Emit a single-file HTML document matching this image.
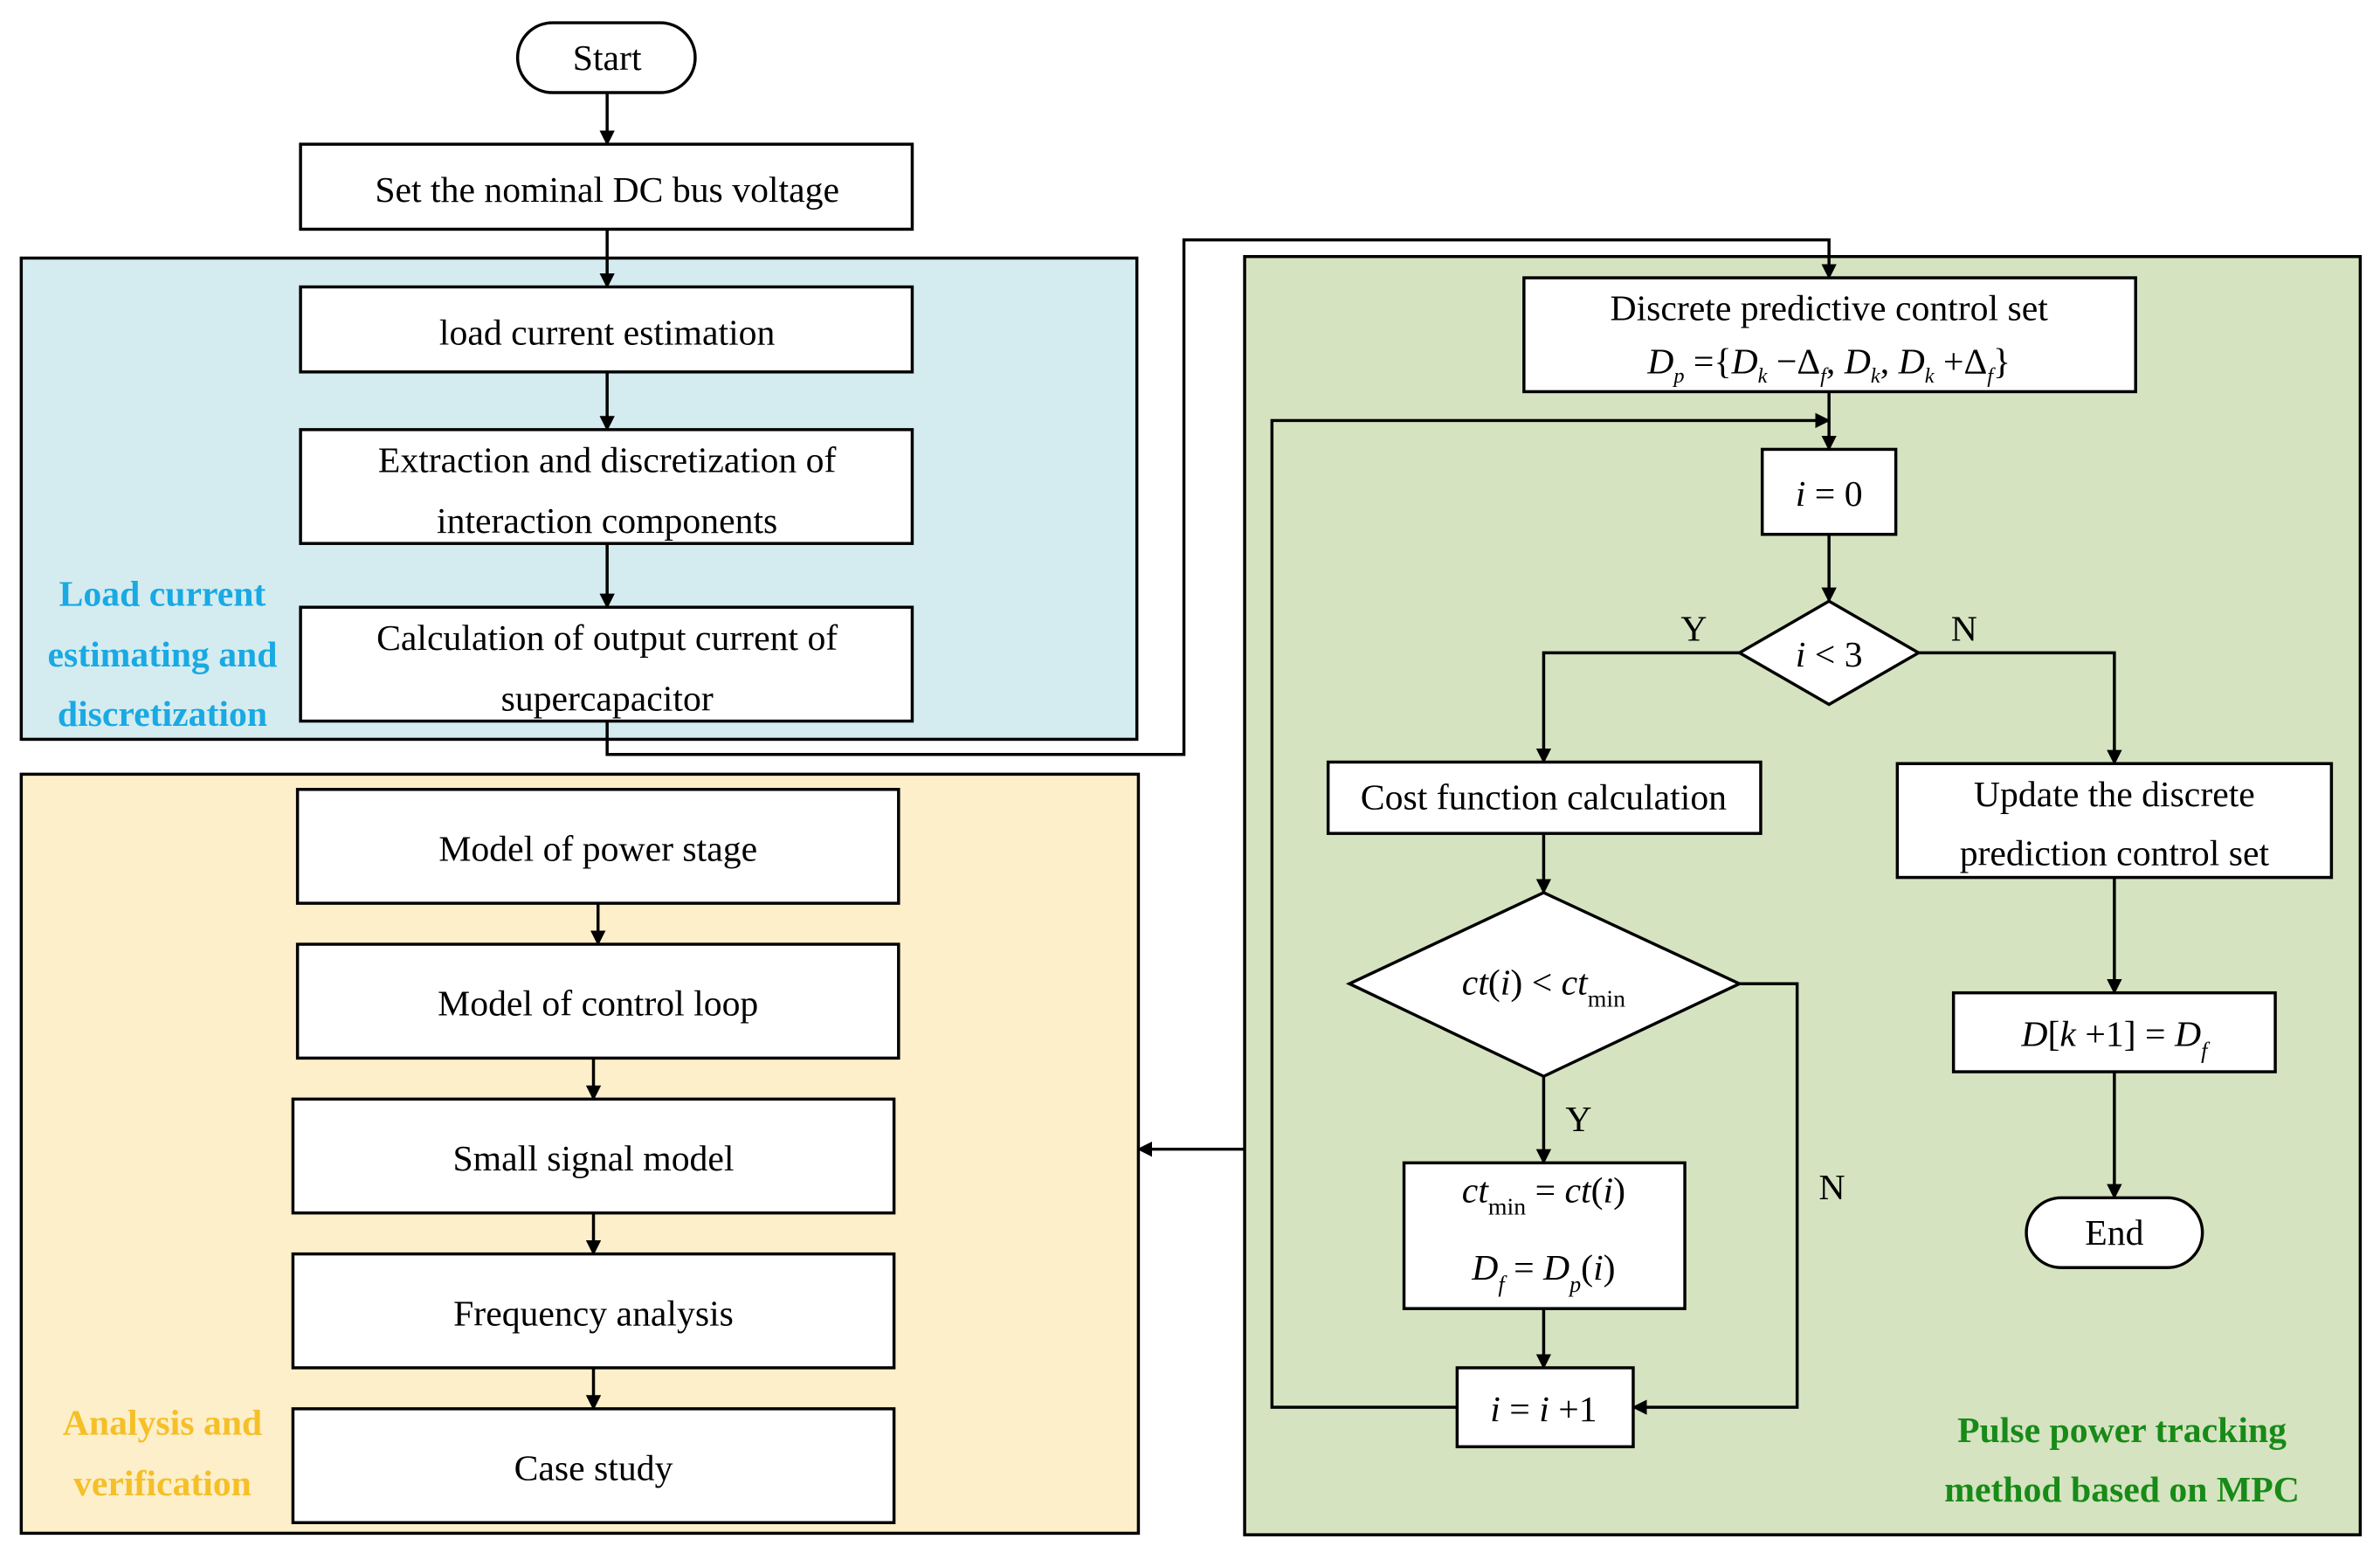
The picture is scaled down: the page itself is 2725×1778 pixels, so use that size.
<!DOCTYPE html>
<html><head><meta charset="utf-8"><style>
html,body{margin:0;padding:0;background:#fff;}
svg{display:block;}
text{font-family:"Liberation Serif",serif;font-size:24px;fill:#000;}
.m{font-style:italic;}
.b{font-weight:bold;}
text.bl{fill:#19a9e3;}
text.or{fill:#f5bf27;}
text.gr{fill:#188a18;}
</style></head><body>
<svg width="2725" height="1778" viewBox="0 0 1568 1023" preserveAspectRatio="none" xmlns="http://www.w3.org/2000/svg">
<defs><marker id="a" markerWidth="10" markerHeight="10" refX="9" refY="5" orient="auto" markerUnits="userSpaceOnUse"><path d="M0,0 L10,5 L0,10 z" fill="#000"/></marker></defs>
<g stroke="#000" stroke-width="2">
<rect x="14" y="170" width="735" height="317" fill="#d4ecf0"/>
<rect x="14" y="510" width="736" height="500" fill="#fdefc9"/>
<rect x="820" y="169" width="735" height="842" fill="#d5e3c0"/>
</g>
<g stroke="#000" stroke-width="2" fill="#fff">
<rect x="341" y="15" width="117" height="46" rx="23"/>
<rect x="198" y="95" width="403" height="56"/>
<rect x="198" y="189" width="403" height="56"/>
<rect x="198" y="283" width="403" height="75"/>
<rect x="198" y="400" width="403" height="75"/>
<rect x="196" y="520" width="396" height="75"/>
<rect x="196" y="622" width="396" height="75"/>
<rect x="193" y="724" width="396" height="75"/>
<rect x="193" y="826" width="396" height="75"/>
<rect x="193" y="928" width="396" height="75"/>
<rect x="1004" y="183" width="403" height="75"/>
<rect x="1161" y="296" width="88" height="56"/>
<polygon points="1205,396 1264,430 1205,464 1146,430"/>
<rect x="875" y="502" width="285" height="47"/>
<rect x="1250" y="503" width="286" height="75"/>
<polygon points="1017,588 1146,648 1017,709 889,648"/>
<rect x="925" y="766" width="185" height="96"/>
<rect x="960" y="901" width="116" height="52"/>
<rect x="1287" y="654" width="212" height="52"/>
<rect x="1335" y="789" width="116" height="46" rx="23"/>
</g>
<g stroke="#000" stroke-width="2" fill="none" marker-end="url(#a)">
<line x1="400" y1="61" x2="400" y2="95"/>
<line x1="400" y1="151" x2="400" y2="189"/>
<line x1="400" y1="245" x2="400" y2="283"/>
<line x1="400" y1="358" x2="400" y2="400"/>
<polyline points="400,475 400,497 780,497 780,158 1205,158 1205,183"/>
<line x1="394" y1="595" x2="394" y2="622"/>
<line x1="391" y1="697" x2="391" y2="724"/>
<line x1="391" y1="799" x2="391" y2="826"/>
<line x1="391" y1="901" x2="391" y2="928"/>
<line x1="820" y1="757" x2="750" y2="757"/>
<line x1="1205" y1="258" x2="1205" y2="296"/>
<polyline points="960,927 838,927 838,277 1205,277"/>
<line x1="1205" y1="352" x2="1205" y2="396"/>
<polyline points="1146,430 1017,430 1017,502"/>
<polyline points="1264,430 1393,430 1393,503"/>
<line x1="1017" y1="549" x2="1017" y2="588"/>
<line x1="1017" y1="709" x2="1017" y2="766"/>
<line x1="1017" y1="862" x2="1017" y2="901"/>
<polyline points="1146,648 1184,648 1184,927 1076,927"/>
<line x1="1393" y1="578" x2="1393" y2="654"/>
<line x1="1393" y1="706" x2="1393" y2="789"/>
</g>
<g text-anchor="middle">
<text x="400" y="46">Start</text>
<text x="400" y="133">Set the nominal DC bus voltage</text>
<text x="400" y="227">load current estimation</text>
<text x="400" y="311">Extraction and discretization of</text>
<text x="400" y="351">interaction components</text>
<text x="400" y="428">Calculation of output current of</text>
<text x="400" y="468">supercapacitor</text>
<text x="394" y="567">Model of power stage</text>
<text x="394" y="669">Model of control loop</text>
<text x="391" y="771">Small signal model</text>
<text x="391" y="873">Frequency analysis</text>
<text x="391" y="975">Case study</text>
<text x="1205" y="211">Discrete predictive control set</text>
<text x="1205" y="246"><tspan class="m">D</tspan><tspan class="m" font-size="14" dy="6">p</tspan><tspan dy="-6"> ={</tspan><tspan class="m">D</tspan><tspan class="m" font-size="14" dy="6">k</tspan><tspan dy="-6"> −Δ</tspan><tspan class="m" font-size="14" dy="6">f</tspan><tspan dy="-6">, </tspan><tspan class="m">D</tspan><tspan class="m" font-size="14" dy="6">k</tspan><tspan dy="-6">, </tspan><tspan class="m">D</tspan><tspan class="m" font-size="14" dy="6">k</tspan><tspan dy="-6"> +Δ</tspan><tspan class="m" font-size="14" dy="6">f</tspan><tspan dy="-6">}</tspan></text>
<text x="1205" y="333"><tspan class="m">i</tspan> = 0</text>
<text x="1205" y="439"><tspan class="m">i</tspan> &lt; 3</text>
<text x="1017" y="533">Cost function calculation</text>
<text x="1393" y="531">Update the discrete</text>
<text x="1393" y="570">prediction control set</text>
<text x="1017" y="655"><tspan class="m">ct</tspan>(<tspan class="m">i</tspan>) &lt; <tspan class="m">ct</tspan><tspan font-size="16" dy="8">min</tspan></text>
<text x="1017" y="792"><tspan class="m">ct</tspan><tspan font-size="16" dy="8">min</tspan><tspan dy="-8"> = </tspan><tspan class="m">ct</tspan>(<tspan class="m">i</tspan>)</text>
<text x="1017" y="843"><tspan class="m">D</tspan><tspan class="m" font-size="15" dy="8">f</tspan><tspan dy="-8"> = </tspan><tspan class="m">D</tspan><tspan class="m" font-size="15" dy="8">p</tspan><tspan dy="-8">(</tspan><tspan class="m">i</tspan>)</text>
<text x="1017" y="936"><tspan class="m">i</tspan> = <tspan class="m">i</tspan> +1</text>
<text x="1393" y="689"><tspan class="m">D</tspan>[<tspan class="m">k</tspan> +1] = <tspan class="m">D</tspan><tspan class="m" font-size="15" dy="8">f</tspan></text>
<text x="1393" y="820">End</text>
<text x="1116" y="422">Y</text>
<text x="1294" y="422">N</text>
<text x="1040" y="745">Y</text>
<text x="1207" y="790">N</text>
<text class="b bl" x="107" y="399">Load current</text>
<text class="b bl" x="107" y="439">estimating and</text>
<text class="b bl" x="107" y="478">discretization</text>
<text class="b or" x="107" y="945">Analysis and</text>
<text class="b or" x="107" y="985">verification</text>
<text class="b gr" x="1398" y="950">Pulse power tracking</text>
<text class="b gr" x="1398" y="989">method based on MPC</text>
</g>
</svg>
</body></html>
